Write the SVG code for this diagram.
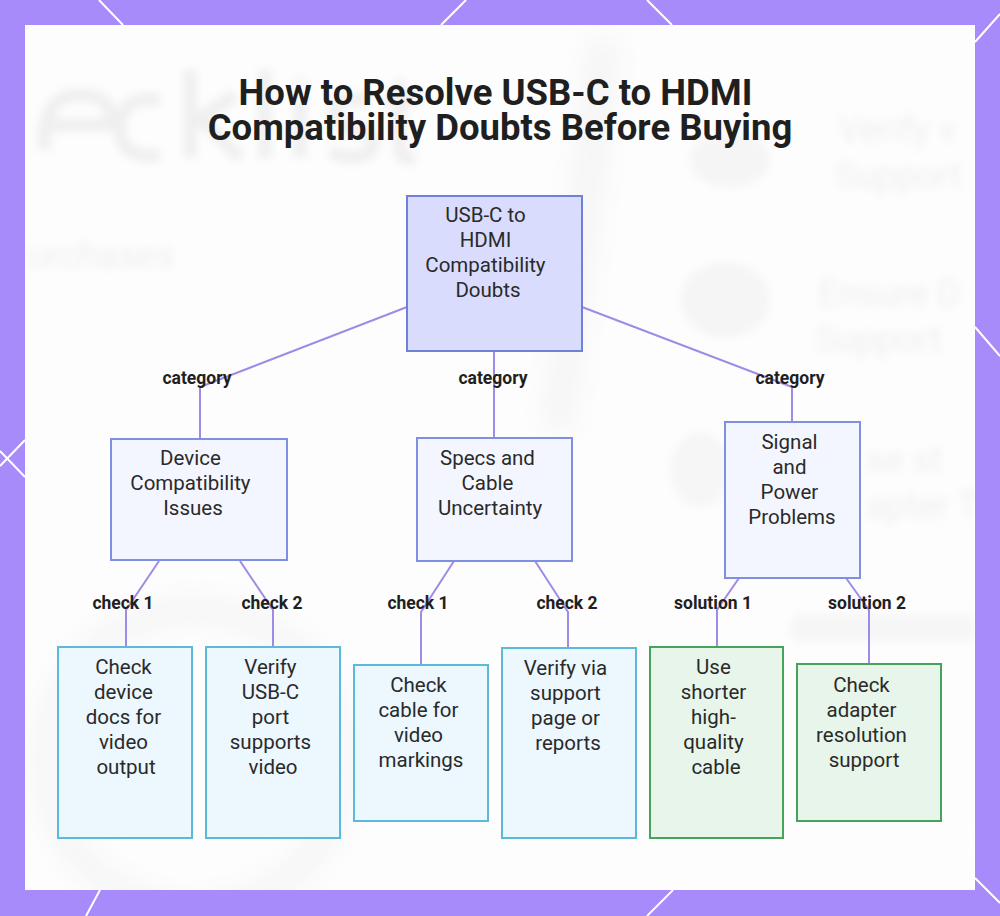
<svg xmlns="http://www.w3.org/2000/svg" width="1000" height="916" viewBox="0 0 1000 916">
  <defs>
    <filter id="blurBg" x="-20%" y="-20%" width="140%" height="140%">
      <feGaussianBlur stdDeviation="4"/>
    </filter>
    <filter id="blurBig" x="-30%" y="-30%" width="160%" height="160%">
      <feGaussianBlur stdDeviation="14"/>
    </filter>
    <clipPath id="panelClip">
      <rect x="25" y="25" width="950" height="865"/>
    </clipPath>
    <style>
      .title { font-family: Roboto, "Liberation Sans", sans-serif; font-weight: 700; font-size: 36.5px; fill: #1f1f1f; }
      .ntext { font-family: Roboto, "Liberation Sans", sans-serif; font-size: 20.5px; fill: #2a2a2a; text-anchor: middle; }
      .elabel { font-family: Roboto, "Liberation Sans", sans-serif; font-weight: 700; font-size: 17.5px; fill: #1f1f1f; text-anchor: middle; }
      .edge { fill: none; stroke: #a08ae8; stroke-width: 2; }
      .root { fill: #d9dcfc; stroke: #6f80d8; stroke-width: 2; }
      .cat { fill: #f4f6ff; stroke: #8090e0; stroke-width: 2; }
      .leafc { fill: #ecf7fe; stroke: #5bbad9; stroke-width: 2; }
      .leafg { fill: #e7f5ea; stroke: #45a35c; stroke-width: 2; }
      .bline { stroke: #ffffff; stroke-width: 2; fill: none; }
      .ghost { font-family: Roboto, "Liberation Sans", sans-serif; fill: #efefef; font-size: 36px; }
    </style>
  </defs>

  <!-- frame -->
  <rect x="0" y="0" width="1000" height="916" fill="#a78bfa"/>
  <g id="border-lines">
    <line class="bline" x1="99" y1="0" x2="123" y2="25"/>
    <line class="bline" x1="466" y1="0" x2="441" y2="25"/>
    <line class="bline" x1="647" y1="0" x2="672" y2="25"/>
    <line class="bline" x1="1000" y1="14" x2="975" y2="42"/>
    <line class="bline" x1="975" y1="327" x2="1000" y2="356"/>
    <line class="bline" x1="25" y1="440" x2="0" y2="466"/>
    <line class="bline" x1="25" y1="477" x2="0" y2="451"/>
    <line class="bline" x1="975" y1="878" x2="1000" y2="903"/>
    <line class="bline" x1="673" y1="890" x2="647" y2="916"/>
    <line class="bline" x1="100" y1="890" x2="86" y2="916"/>
  </g>
  <rect x="25" y="25" width="950" height="865" fill="#fdfdfd"/>

  <!-- blurred background -->
  <g id="background" clip-path="url(#panelClip)">
    <polygon points="592,40 618,40 570,430 545,430" fill="#f3f3f3" filter="url(#blurBig)"/>
    <circle cx="195" cy="760" r="150" fill="none" stroke="#f3f3f3" stroke-width="20" filter="url(#blurBig)"/>
    <g filter="url(#blurBg)">
      <path d="M45,150 Q40,95 80,95 Q115,95 110,125 L45,125 M160,100 Q120,95 120,128 Q120,160 160,155 M190,70 L190,158 M190,125 L235,95 M200,118 L240,158 M265,70 L265,158 M300,100 L300,158 M300,78 L300,82 M370,100 Q330,95 335,115 Q340,128 360,130 Q380,135 370,152 Q355,162 330,152 M400,80 L400,150 Q400,160 415,158 M385,100 L420,100" fill="none" stroke="#efefef" stroke-width="13"/>
      <text class="ghost" x="28" y="268" font-size="58">urchases</text>
      <text class="ghost" x="838" y="142">Verify v</text>
      <text class="ghost" x="835" y="188">Support</text>
      <text class="ghost" x="818" y="306">Ensure D</text>
      <text class="ghost" x="815" y="352">Support</text>
      <text class="ghost" x="866" y="472">se st</text>
      <text class="ghost" x="866" y="518">apter T</text>
      <ellipse cx="730" cy="160" rx="40" ry="28" fill="#f5f5f5"/>
      <ellipse cx="725" cy="300" rx="45" ry="38" fill="#f5f5f5"/>
      <ellipse cx="700" cy="470" rx="30" ry="38" fill="#f6f6f6"/>
      <rect x="790" y="614" width="185" height="28" rx="10" fill="#f6f6f6"/>
    </g>
    <g id="watermark" opacity="0.85" fill="none" stroke="#ffffff" stroke-width="1.5">
      <circle cx="928" cy="842" r="43"/>
      <rect x="906" y="828" width="44" height="26" rx="3"/>
      <circle cx="933" cy="838" r="6"/>
      <line x1="900" y1="836" x2="918" y2="836"/>
      <line x1="915" y1="860" x2="942" y2="860"/>
    </g>
  </g>

  <!-- title -->
  <text class="title" text-anchor="middle">
    <tspan x="500" y="105">How to Resolve USB-C to HDMI</tspan>
    <tspan x="500" y="140">Compatibility Doubts Before Buying</tspan>
  </text>

  <!-- connectors -->
  <g id="connectors">
    <polyline class="edge" points="407,307 200,387 200,439"/>
    <polyline class="edge" points="494,352 494,438"/>
    <polyline class="edge" points="582,307 792,387 792,422"/>
    <polyline class="edge" points="159,561 126,610 126,647"/>
    <polyline class="edge" points="240,561 273,610 273,647"/>
    <polyline class="edge" points="454,561 421,612 421,665"/>
    <polyline class="edge" points="535,561 568,612 568,648"/>
    <polyline class="edge" points="739,578 717,610 717,647"/>
    <polyline class="edge" points="846,578 869,610 869,664"/>
    <text class="elabel" x="197" y="384">category</text>
    <text class="elabel" x="493" y="384">category</text>
    <text class="elabel" x="790" y="384">category</text>
    <text class="elabel" x="123" y="609">check 1</text>
    <text class="elabel" x="272" y="609">check 2</text>
    <text class="elabel" x="418" y="609">check 1</text>
    <text class="elabel" x="567" y="609">check 2</text>
    <text class="elabel" x="713" y="609">solution 1</text>
    <text class="elabel" x="867" y="609">solution 2</text>
  </g>

  <!-- nodes -->
  <g id="root">
    <rect class="root" x="407" y="196" width="175" height="155"/>
    <text class="ntext" x="488" y="222">
      <tspan x="488">USB-C to</tspan>
      <tspan x="488" dy="25">HDMI</tspan>
      <tspan x="488" dy="25">Compatibility</tspan>
      <tspan x="488" dy="25">Doubts</tspan>
    </text>
  </g>

  <g id="device">
    <rect class="cat" x="111" y="439" width="176" height="121"/>
    <text class="ntext" x="193" y="465">
      <tspan x="193">Device</tspan>
      <tspan x="193" dy="25">Compatibility</tspan>
      <tspan x="193" dy="25">Issues</tspan>
    </text>
  </g>

  <g id="specs">
    <rect class="cat" x="417" y="438" width="155" height="123"/>
    <text class="ntext" x="490" y="465">
      <tspan x="490">Specs and</tspan>
      <tspan x="490" dy="25">Cable</tspan>
      <tspan x="490" dy="25">Uncertainty</tspan>
    </text>
  </g>

  <g id="signal">
    <rect class="cat" x="725" y="422" width="135" height="156"/>
    <text class="ntext" x="792" y="449">
      <tspan x="792">Signal</tspan>
      <tspan x="792" dy="25">and</tspan>
      <tspan x="792" dy="25">Power</tspan>
      <tspan x="792" dy="25">Problems</tspan>
    </text>
  </g>

  <g id="leaf-docs">
    <rect class="leafc" x="58" y="647" width="134" height="191"/>
    <text class="ntext" x="126" y="674">
      <tspan x="126">Check</tspan>
      <tspan x="126" dy="25">device</tspan>
      <tspan x="126" dy="25">docs for</tspan>
      <tspan x="126" dy="25">video</tspan>
      <tspan x="126" dy="25">output</tspan>
    </text>
  </g>

  <g id="leaf-port">
    <rect class="leafc" x="206" y="647" width="134" height="191"/>
    <text class="ntext" x="273" y="674">
      <tspan x="273">Verify</tspan>
      <tspan x="273" dy="25">USB-C</tspan>
      <tspan x="273" dy="25">port</tspan>
      <tspan x="273" dy="25">supports</tspan>
      <tspan x="273" dy="25">video</tspan>
    </text>
  </g>

  <g id="leaf-cable">
    <rect class="leafc" x="354" y="665" width="134" height="156"/>
    <text class="ntext" x="421" y="692">
      <tspan x="421">Check</tspan>
      <tspan x="421" dy="25">cable for</tspan>
      <tspan x="421" dy="25">video</tspan>
      <tspan x="421" dy="25">markings</tspan>
    </text>
  </g>

  <g id="leaf-support">
    <rect class="leafc" x="502" y="648" width="134" height="190"/>
    <text class="ntext" x="568" y="675">
      <tspan x="568">Verify via</tspan>
      <tspan x="568" dy="25">support</tspan>
      <tspan x="568" dy="25">page or</tspan>
      <tspan x="568" dy="25">reports</tspan>
    </text>
  </g>

  <g id="leaf-shorter">
    <rect class="leafg" x="650" y="647" width="133" height="191"/>
    <text class="ntext" x="716" y="674">
      <tspan x="716">Use</tspan>
      <tspan x="716" dy="25">shorter</tspan>
      <tspan x="716" dy="25">high-</tspan>
      <tspan x="716" dy="25">quality</tspan>
      <tspan x="716" dy="25">cable</tspan>
    </text>
  </g>

  <g id="leaf-adapter">
    <rect class="leafg" x="797" y="664" width="144" height="157"/>
    <text class="ntext" x="864" y="692">
      <tspan x="864">Check</tspan>
      <tspan x="864" dy="25">adapter</tspan>
      <tspan x="864" dy="25">resolution</tspan>
      <tspan x="864" dy="25">support</tspan>
    </text>
  </g>
</svg>
